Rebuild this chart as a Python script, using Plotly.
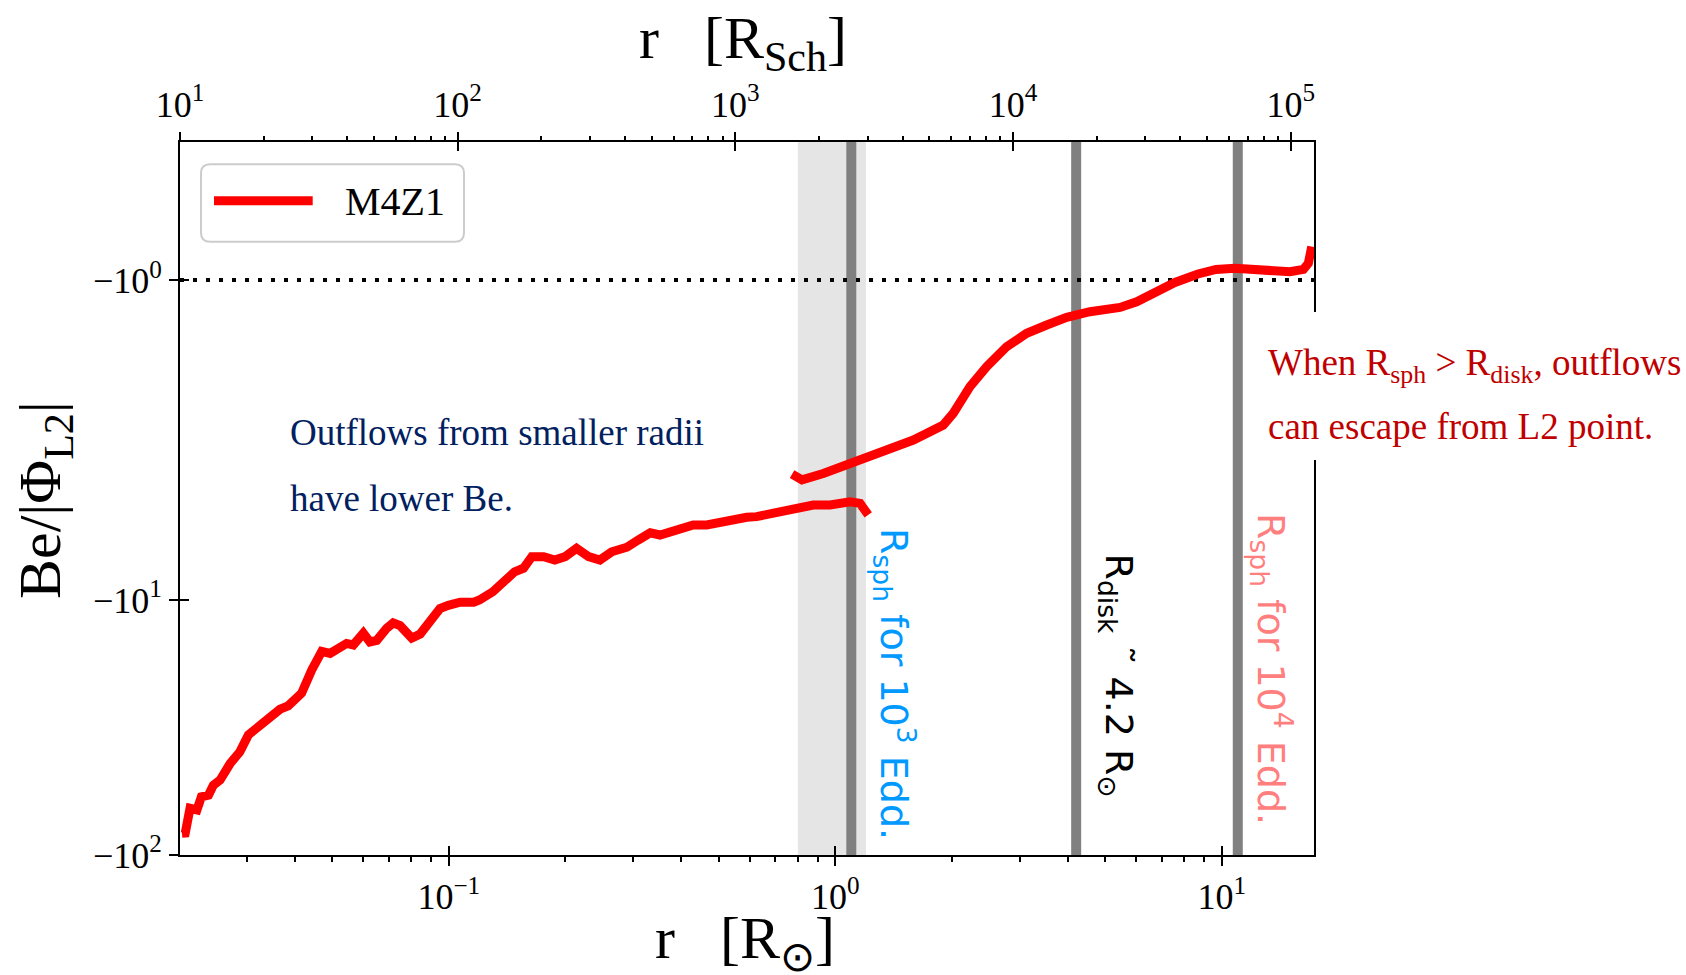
import math
import plotly.graph_objects as go

# ---------------- data ----------------
series_name = "M4Z1"
r_lower = [0.0204, 0.0208, 0.0214, 0.0223, 0.0229, 0.0239, 0.0246, 0.0256, 0.0272, 0.0288,
           0.0303, 0.0325, 0.0338, 0.0366, 0.0384, 0.0416, 0.0442, 0.0469, 0.0493, 0.0513,
           0.0544, 0.0566, 0.0601, 0.0625, 0.0651, 0.0691, 0.0718, 0.0748, 0.0802, 0.0843,
           0.0894, 0.0949, 0.0997, 0.107, 0.116, 0.120, 0.130, 0.138, 0.148, 0.156,
           0.164, 0.176, 0.188, 0.200, 0.214, 0.230, 0.246, 0.264, 0.289, 0.309,
           0.332, 0.352, 0.389, 0.429, 0.465, 0.524, 0.590, 0.626, 0.691, 0.779,
           0.877, 0.969, 1.092, 1.159, 1.217]
be_lower = [-82.2, -82.0, -65.6, -66.6, -59.1, -58.2, -53.2, -50.8, -43.7, -39.4,
            -33.8, -30.9, -30.0, -26.8, -26.0, -23.2, -18.8, -15.9, -16.2, -15.6,
            -14.8, -15.0, -13.5, -14.6, -14.4, -12.9, -12.3, -12.6, -14.1, -13.6,
            -12.2, -10.8, -10.5, -10.2, -10.2, -10.0, -9.28, -8.60, -7.75, -7.51,
            -6.76, -6.76, -6.97, -6.76, -6.27, -6.76, -6.97, -6.47, -6.21, -5.82,
            -5.45, -5.56, -5.32, -5.08, -5.08, -4.86, -4.74, -4.71, -4.55, -4.33,
            -4.24, -4.24, -4.12, -4.18, -4.64]
r_upper = [0.773, 0.820, 0.931, 1.070, 1.305, 1.592, 1.903, 2.020, 2.231, 2.465,
           2.776, 3.128, 3.524, 3.970, 4.560, 5.453, 6.023, 6.648, 7.564, 8.680,
           9.661, 10.82, 12.06, 13.33, 15.01, 16.26, 16.75, 17.09]
be_upper = [-3.21, -3.38, -3.19, -2.96, -2.66, -2.36, -2.06, -1.94, -1.752, -1.611,
            -1.470, -1.376, -1.317, -1.263, -1.223, -1.193, -1.153, -1.088, -1.017, -0.957,
            -0.925, -0.917, -0.922, -0.931, -0.941, -0.924, -0.881, -0.764]

r_sph_1e3 = 1.1
r_sph_1e3_band = [0.8, 1.2]
r_disk = 4.2
r_sph_1e4 = 11.0
be_escape = -1.0

x_tick_values = [0.1, 1.0, 10.0]
x_tick_labels = ["10<sup>−1</sup>", "10<sup>0</sup>", "10<sup>1</sup>"]
top_tick_values = [1e1, 1e2, 1e3, 1e4, 1e5]
top_tick_labels = ["10<sup>1</sup>", "10<sup>2</sup>", "10<sup>3</sup>", "10<sup>4</sup>", "10<sup>5</sup>"]
y_tick_values = [-1.0, -10.0, -100.0]
y_tick_labels = ["−10<sup>0</sup>", "−10<sup>1</sup>", "−10<sup>2</sup>"]

# ---------------- symlog scale (matplotlib style) ----------------
LINTHRESH = 2.0
LINSCALE = 1.0
def symlog(v):
    ls = LINSCALE / (1.0 - 0.1)
    a = abs(v)
    t = a / LINTHRESH * ls if a <= LINTHRESH else ls + math.log10(a / LINTHRESH)
    return math.copysign(t, v) if v != 0 else 0.0

# ---------------- geometry ----------------
W, H = 1686, 975
ML, MR, MT, MB = 180, 372, 142, 120
PW = W - ML - MR
PH = H - MT - MB
def fx(px): return (px - ML) / PW
def fy(py): return (H - MB - py) / PH

SERIF = "Liberation Serif"
SANS = "DejaVu Sans"
y_lo = symlog(-100.0)
y_hi = y_lo + PH / 255.0
x_range = [-1.6955, 1.2386]
top_range = [1.0, 5.084]

def minor_vals(e0, e1):
    return [k * 10.0 ** e for e in range(e0, e1 + 1) for k in range(2, 10)]

y_ticks_t = [symlog(v) for v in y_tick_values]

fig = go.Figure()
fig.add_trace(go.Scatter(x=r_lower, y=[symlog(v) for v in be_lower], mode="lines",
                         line=dict(color="#ff0000", width=9), name=series_name,
                         showlegend=False, hoverinfo="skip"))
fig.add_trace(go.Scatter(x=r_upper, y=[symlog(v) for v in be_upper], mode="lines",
                         line=dict(color="#ff0000", width=9), name=series_name,
                         showlegend=False, hoverinfo="skip"))
# helper traces (draw nothing) so that the overlay axes are rendered
fig.add_trace(go.Scatter(x=top_tick_values, y=[y_ticks_t[0]] * len(top_tick_values), mode="none",
                         xaxis="x2", yaxis="y", showlegend=False, hoverinfo="skip"))
fig.add_trace(go.Scatter(x=x_tick_values, y=y_ticks_t, mode="none",
                         xaxis="x3", yaxis="y", showlegend=False, hoverinfo="skip"))
fig.add_trace(go.Scatter(x=top_tick_values, y=[y_ticks_t[0]] * len(top_tick_values), mode="none",
                         xaxis="x4", yaxis="y", showlegend=False, hoverinfo="skip"))
fig.add_trace(go.Scatter(x=x_tick_values, y=y_ticks_t, mode="none",
                         xaxis="x", yaxis="y2", showlegend=False, hoverinfo="skip"))

shapes = []
shapes.append(dict(type="rect", xref="x", yref="paper", x0=r_sph_1e3_band[0], x1=r_sph_1e3_band[1],
                   y0=0, y1=1, fillcolor="#e5e5e5", line=dict(width=0), layer="below"))
for xv in [r_sph_1e3, r_disk, r_sph_1e4]:
    shapes.append(dict(type="line", xref="x", yref="paper", x0=xv, x1=xv, y0=0, y1=1,
                       line=dict(color="#808080", width=10), layer="below"))
shapes.append(dict(type="line", xref="paper", yref="y", x0=0, x1=1, y0=symlog(be_escape), y1=symlog(be_escape),
                   line=dict(color="black", width=4, dash="4px,9px"), layer="below"))
# white box behind the red note (covers the right spine)
shapes.append(dict(type="rect", xref="paper", yref="paper", x0=fx(1256), x1=fx(1700),
                   y0=fy(460), y1=fy(312), fillcolor="white", line=dict(width=0), layer="above"))
# legend box (rounded)
lx0, lx1, ly0, ly1 = fx(201), fx(464), fy(241.7), fy(164.3)
rx, ry = 9 / PW, 9 / PH
path = (f"M {lx0+rx},{ly0} L {lx1-rx},{ly0} Q {lx1},{ly0} {lx1},{ly0+ry} "
        f"L {lx1},{ly1-ry} Q {lx1},{ly1} {lx1-rx},{ly1} L {lx0+rx},{ly1} "
        f"Q {lx0},{ly1} {lx0},{ly1-ry} L {lx0},{ly0+ry} Q {lx0},{ly0} {lx0+rx},{ly0} Z")
shapes.append(dict(type="path", xref="paper", yref="paper", path=path, fillcolor="white",
                   line=dict(color="#cccccc", width=2), layer="above"))
shapes.append(dict(type="line", xref="paper", yref="paper", x0=fx(214), x1=fx(312.7),
                   y0=fy(200.7), y1=fy(200.7), line=dict(color="#ff0000", width=9), layer="above"))

ann = []
def A(text, x, y, size, color="black", family=SERIF, xanchor="center", yanchor="middle", angle=0):
    ann.append(dict(text=text, x=x, y=y, xref="paper", yref="paper", showarrow=False,
                    xanchor=xanchor, yanchor=yanchor, textangle=angle,
                    font=dict(family=family, size=size, color=color)))

A(series_name, fx(343), fy(201.3), 40, xanchor="left")
A("Outflows from smaller radii", fx(288), fy(432.5), 37, color="#002060", xanchor="left")
A("have lower Be.", fx(288), fy(498.3), 37, color="#002060", xanchor="left")
A("When R<sub>sph</sub> &gt; R<sub>disk</sub>, outflows", fx(1266), fy(365.7), 37, color="#c00000", xanchor="left")
A("can escape from L2 point.", fx(1266), fy(426.7), 37, color="#c00000", xanchor="left")
A("R<sub>sph</sub> for 10<sup>3</sup> Edd.", fx(895), fy(684), 38, color="#0099ff", family=SANS, angle=90)
A("R<sub>disk</sub> ˜ 4.2 R<sub>⊙</sub>", fx(1116), fy(675.5), 38, color="black", family=SANS, angle=90)
A("R<sub>sph</sub> for 10<sup>4</sup> Edd.", fx(1272), fy(669), 38, color="#ff7f7f", family=SANS, angle=90)
A("r   [R<sub>Sch</sub>]", fx(743), fy(42.7), 60)
A("r   [R<sub>⊙</sub>]", fx(745), fy(942), 60)
A("Be/|Φ<sub>L2</sub>|", fx(45), fy(500), 60, angle=-90)

tickfont = dict(family=SERIF, size=36, color="black")
common = dict(showgrid=False, zeroline=False, tickcolor="black", tickwidth=2, ticklen=9)

fig.update_layout(
    width=W, height=H, autosize=False,
    margin=dict(l=ML, r=MR, t=MT, b=MB, pad=0),
    paper_bgcolor="white", plot_bgcolor="white",
    showlegend=False,
    font=dict(family=SERIF, color="black"),
    shapes=shapes, annotations=ann,
    xaxis=dict(type="log", range=x_range, side="bottom", anchor="y",
               tickmode="array", tickvals=x_tick_values, ticktext=x_tick_labels,
               ticks="outside", tickfont=tickfont, showline=True, linecolor="black", linewidth=2,
               mirror=True,
               minor=dict(tickmode="array", tickvals=minor_vals(-2, 1), ticks="outside",
                          ticklen=5, tickwidth=1.5, tickcolor="black", showgrid=False),
               **common),
    xaxis2=dict(type="log", range=top_range, side="top", overlaying="x", anchor="y",
                tickmode="array", tickvals=top_tick_values, ticktext=top_tick_labels,
                ticks="outside", tickfont=tickfont, showline=False, ticklabelstandoff=1,
                minor=dict(tickmode="array", tickvals=minor_vals(1, 5), ticks="outside",
                           ticklen=5, tickwidth=1.5, tickcolor="black", showgrid=False),
                **common),
    xaxis3=dict(type="log", range=x_range, side="bottom", overlaying="x", anchor="y",
                tickmode="array", tickvals=x_tick_values, ticks="inside",
                showticklabels=False, showline=False, **common),
    xaxis4=dict(type="log", range=top_range, side="top", overlaying="x", anchor="y",
                tickmode="array", tickvals=top_tick_values, ticks="inside",
                showticklabels=False, showline=False, **common),
    yaxis=dict(range=[y_lo, y_hi], anchor="x", side="left",
               tickmode="array", tickvals=y_ticks_t, ticktext=y_tick_labels,
               ticks="outside", tickfont=tickfont, showline=True, linecolor="black", linewidth=2,
               mirror=True, **common),
    yaxis2=dict(range=[y_lo, y_hi], overlaying="y", anchor="x", side="left",
                tickmode="array", tickvals=y_ticks_t, ticks="inside",
                showticklabels=False, showline=False, **common),
)

fig.write_html("out.html", config={"displayModeBar": False})
